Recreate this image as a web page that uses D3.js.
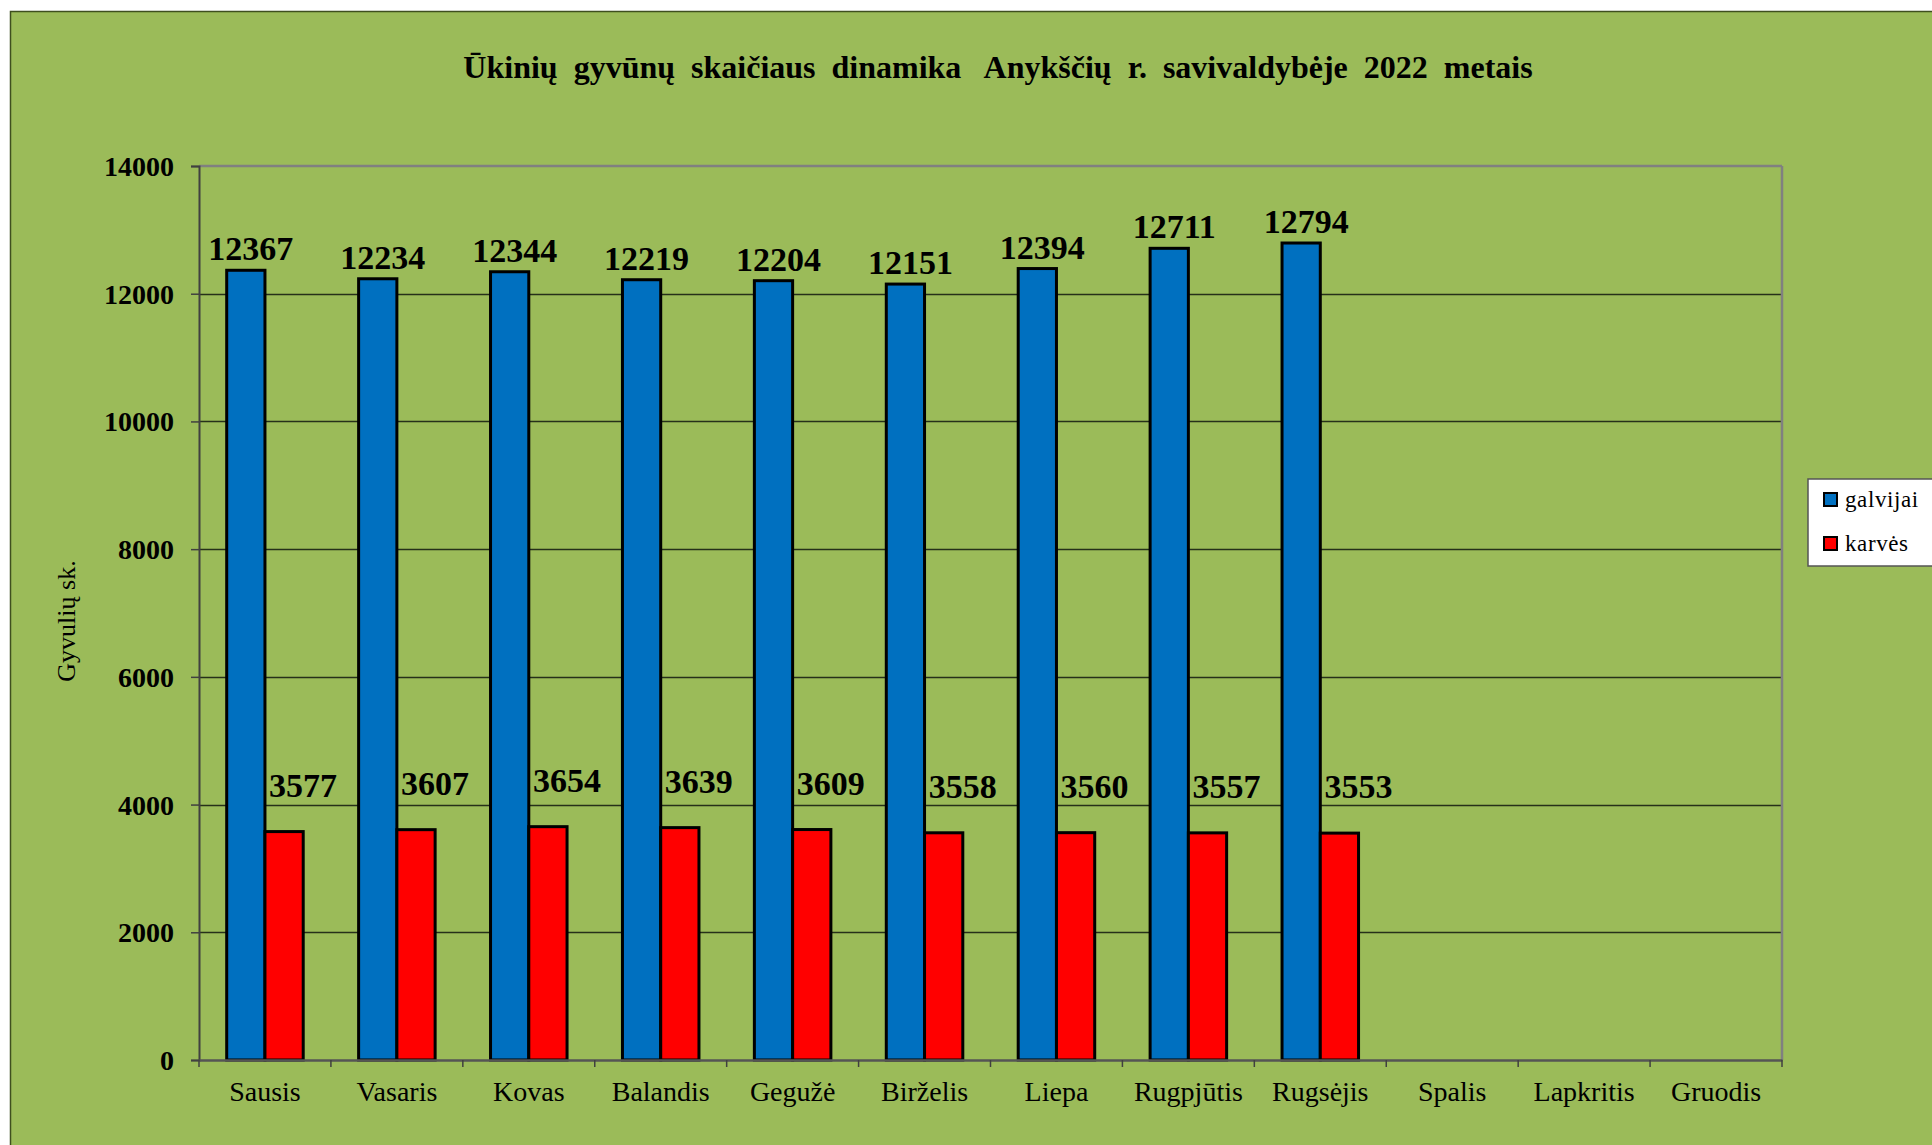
<!DOCTYPE html>
<html>
<head>
<meta charset="utf-8">
<script src="https://cdn.jsdelivr.net/npm/d3@7"></script>
<style>
  html, body { margin: 0; padding: 0; background: #ffffff; }
  svg { display: block; }
  text { font-family: "Liberation Serif", "Times New Roman", serif; }
</style>
</head>
<body>
<svg id="chart" width="1932" height="1145"></svg>
<script>
const chartTitle = "Ūkinių  gyvūnų  skaičiaus  dinamika   Anykščių  r.  savivaldybėje  2022  metais";
const yAxisTitle = "Gyvulių sk.";
const months = ["Sausis", "Vasaris", "Kovas", "Balandis", "Gegužė", "Birželis", "Liepa", "Rugpjūtis", "Rugsėjis", "Spalis", "Lapkritis", "Gruodis"];
const seriesNames = ["galvijai", "karvės"];
const galvijai = [12367, 12234, 12344, 12219, 12204, 12151, 12394, 12711, 12794, null, null, null];
const karves = [3577, 3607, 3654, 3639, 3609, 3558, 3560, 3557, 3553, null, null, null];
const yTicks = [0, 2000, 4000, 6000, 8000, 10000, 12000, 14000];
const seriesColors = ["#0070C0", "#FF0000"];

const svg = d3.select("#chart");
const W = 1932, H = 1145;
const plot = { left: 199, right: 1782, top: 166, bottom: 1060 };

// outer chart area
svg.append("rect").attr("x", 0).attr("y", 0).attr("width", W).attr("height", H).attr("fill", "#ffffff");
svg.append("rect").attr("x", 10.5).attr("y", 11.5).attr("width", W).attr("height", H)
  .attr("fill", "#9BBB59").attr("stroke", "#3f4f1f").attr("stroke-width", 1.5);

const x0 = d3.scaleBand().domain(months).range([plot.left, plot.right]).paddingInner(0).paddingOuter(0);
const y = d3.scaleLinear().domain([0, 14000]).range([plot.bottom, plot.top]);
const bw = x0.bandwidth();
const barW = bw * 0.29;
const x1 = d3.scaleBand().domain(seriesNames).range([-barW, barW]).padding(0);

// gridlines
svg.append("g").selectAll("line").data(yTicks.filter(t => t > 0 && t < 14000)).join("line")
  .attr("x1", plot.left).attr("x2", plot.right)
  .attr("y1", d => Math.round(y(d)) + 0.5).attr("y2", d => Math.round(y(d)) + 0.5)
  .attr("stroke", "#26301a").attr("stroke-width", 1.3);

// plot border top & right (gray)
svg.append("line").attr("x1", plot.left).attr("x2", plot.right).attr("y1", plot.top).attr("y2", plot.top)
  .attr("stroke", "#808080").attr("stroke-width", 2.5);
svg.append("line").attr("x1", plot.right).attr("x2", plot.right).attr("y1", plot.top).attr("y2", plot.bottom)
  .attr("stroke", "#808080").attr("stroke-width", 2.5);

// bars
const data = months.map((m, i) => ({ month: m, values: [galvijai[i], karves[i]] }));
const groups = svg.append("g").selectAll("g").data(data).join("g")
  .attr("transform", d => `translate(${x0(d.month) + bw / 2},0)`);

groups.selectAll("rect").data(d => d.values.map((v, j) => ({ v, s: seriesNames[j], j })).filter(e => e.v != null))
  .join("rect")
  .attr("x", e => x1(e.s))
  .attr("width", x1.bandwidth())
  .attr("y", e => y(e.v))
  .attr("height", e => y(0) - y(e.v))
  .attr("fill", e => seriesColors[e.j])
  .attr("stroke", "#000").attr("stroke-width", 3);

// value labels
groups.selectAll("text.val").data(d => d.values.map((v, j) => ({ v, s: seriesNames[j], j })).filter(e => e.v != null))
  .join("text").attr("class", "val")
  .attr("x", e => x1(e.s) + x1.bandwidth() / 2 + (e.j === 0 ? 5 : 19))
  .attr("y", e => y(e.v) - (e.j === 0 ? 10 : 35))
  .attr("text-anchor", "middle")
  .attr("font-size", 34).attr("font-weight", "bold").attr("fill", "#000")
  .text(e => e.v);

// y axis
const yAxis = d3.axisLeft(y).tickValues(yTicks).tickSize(8).tickPadding(17).tickFormat(d3.format("d"));
const gy = svg.append("g").attr("transform", `translate(${plot.left},0)`).call(yAxis);
gy.select(".domain").attr("stroke", "#404040").attr("stroke-width", 2);
gy.selectAll(".tick line").attr("stroke", "#404040").attr("stroke-width", 1.5);
gy.selectAll(".tick text").attr("font-size", 28).attr("font-weight", "bold").attr("fill", "#000")
  .attr("font-family", "Liberation Serif, serif").attr("dy", "0.34em");

// x axis
const xAxis = d3.axisBottom(x0).tickSize(0).tickPadding(21);
const gx = svg.append("g").attr("transform", `translate(0,${plot.bottom})`).call(xAxis);
gx.select(".domain").attr("stroke", "#555").attr("stroke-width", 2.5);
gx.selectAll(".tick text").attr("font-size", 28).attr("fill", "#000")
  .attr("font-family", "Liberation Serif, serif");
// tick marks at band boundaries
svg.append("g").selectAll("line").data(months.concat(["__end"])).join("line")
  .attr("x1", (d, i) => i < months.length ? x0(d) : plot.right)
  .attr("x2", (d, i) => i < months.length ? x0(d) : plot.right)
  .attr("y1", plot.bottom).attr("y2", plot.bottom + 7)
  .attr("stroke", "#404040").attr("stroke-width", 1.5);

// y axis title
svg.append("text").attr("transform", "translate(75,621) rotate(-90)")
  .attr("text-anchor", "middle").attr("font-size", 26).attr("fill", "#000").text(yAxisTitle);

// chart title
svg.append("text").attr("x", 998).attr("y", 78).attr("text-anchor", "middle")
  .attr("font-size", 32).attr("font-weight", "bold").attr("fill", "#000")
  .style("white-space", "pre").text(chartTitle);

// legend
const lg = svg.append("g");
lg.append("rect").attr("x", 1808).attr("y", 479).attr("width", 140).attr("height", 87)
  .attr("fill", "#fff").attr("stroke", "#555").attr("stroke-width", 1.5);
const li = lg.selectAll("g").data(seriesNames).join("g")
  .attr("transform", (d, i) => `translate(1824,${493 + i * 44})`);
li.append("rect").attr("width", 13).attr("height", 13)
  .attr("fill", (d, i) => seriesColors[i]).attr("stroke", "#000").attr("stroke-width", 2);
li.append("text").attr("x", 21).attr("y", 14).attr("font-size", 23).attr("fill", "#000")
  .attr("letter-spacing", 0.6).text(d => d);
</script>
</body>
</html>
